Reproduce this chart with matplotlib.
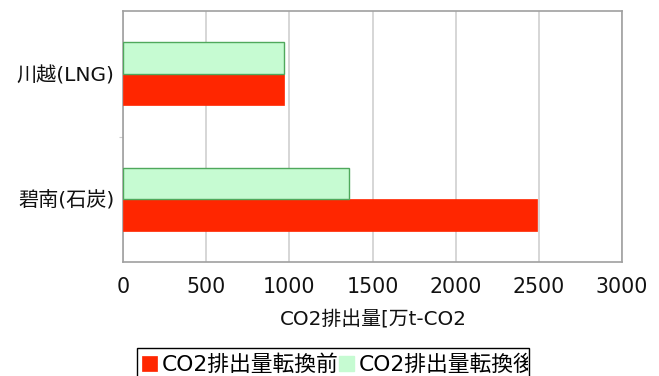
import numpy as np
import matplotlib
matplotlib.use("Agg")
import matplotlib.pyplot as plt
from matplotlib.patches import Rectangle
from matplotlib.transforms import Bbox

# latin glyphs from DejaVu (wide digits), CJK falls through to Noto
plt.rcParams['font.family'] = ['DejaVu Sans', 'Noto Sans CJK JP']

# data (bottom to top)
plants = ["碧南(石炭)", "川越(LNG)"]
before = [2487, 970]   # CO2排出量転換前
after = [1359, 970]    # CO2排出量転換後
series_names = ["CO2排出量転換前", "CO2排出量転換後"]
xlabel = "CO2排出量[万t-CO2]"
xticks = [0, 500, 1000, 1500, 2000, 2500, 3000]

W, H = 659, 376
fig = plt.figure(figsize=(W / 100, H / 100), dpi=100)
ax = fig.add_axes([123 / W, 1 - 262 / H, (622 - 123) / W, (262 - 11) / H])

red = "#ff2600"
green_fill = "#c6fbd2"
green_edge = "#4fa85c"

y = np.arange(len(plants))
h = 0.25
ax.barh(y - h / 2, before, height=h, color=red, edgecolor=red, linewidth=0.5,
        label=series_names[0], zorder=3)
ax.barh(y + h / 2, after, height=h, color=green_fill, edgecolor=green_edge, linewidth=1.0,
        label=series_names[1], zorder=3)

ax.set_xlim(0, 3000)
ax.set_ylim(-0.5, 1.5)
ax.set_xticks(xticks)
ax.set_xticklabels([str(v) for v in xticks], fontsize=14.8, color="#111111")
ax.tick_params(axis="x", length=0, pad=11)

# category labels at bar centers, small separator tick between groups
ax.set_yticks([0.5])
ax.set_yticklabels([""])
ax.tick_params(axis="y", which="major", length=3, color="#cccccc")
ax.set_yticks(y, minor=True)
ax.set_yticklabels(plants, minor=True, fontsize=14.5, color="#111111")
ax.tick_params(axis="y", which="minor", length=0, pad=6)

ax.grid(axis="x", color="#d0d0d0", linewidth=1.2, zorder=0)
for s in ax.spines.values():
    s.set_color("#a0a0a0")
    s.set_linewidth(1.2)

# x label, cut off at the right like the original
t = fig.text(280 / W, 1 - 320 / H, xlabel, ha="left", va="center", fontsize=14.3,
             color="#111111")
t.set_clip_box(Bbox.from_extents(0, 0, 464, H))
t.set_clip_on(True)

# legend box (runs off the bottom edge)
fig.patches.append(Rectangle((137 / W, -0.05), (529 - 137) / W, 0.05 + 1 - 348 / H,
                             transform=fig.transFigure, facecolor="white",
                             edgecolor="black", linewidth=1.0, zorder=1))
handles, labels = ax.get_legend_handles_labels()
leg = fig.legend(handles, labels, loc="center left", bbox_to_anchor=(142 / W, 1 - 365 / H),
                 ncol=2, frameon=False, fontsize=15.7, handlelength=0.7, handleheight=0.7,
                 handletextpad=0.22, columnspacing=0.0, borderpad=0, borderaxespad=0)
leg.set_zorder(2)
for txt in leg.get_texts():
    txt.set_clip_box(Bbox.from_extents(0, 0, 528, H))
    txt.set_clip_on(True)
for p in leg.get_patches():
    p.set_edgecolor(p.get_facecolor())

fig.savefig("out.png", dpi=100)
